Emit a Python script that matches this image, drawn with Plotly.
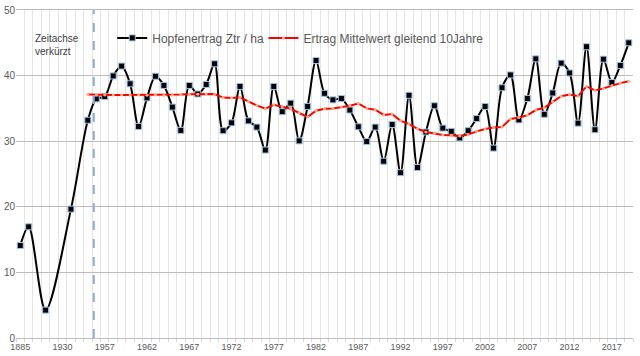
import plotly.graph_objects as go

# Category axis: shortened early timeline, then yearly 1955-2019
early_labels = ["1885", "1900", "1910", "1920", "1925", "1930", "1950", "1954"]
years = [str(y) for y in range(1955, 2020)]
categories = early_labels + years

# Hop yield (Ztr / ha); None = no value in that slot
early_yield = [14.1, 16.95, None, 4.25, None, None, 19.65, None]
yield_1955_1964 = [33.2, 36.45, 36.8, 39.95, 41.45, 38.75, 32.25, 36.6, 39.9, 38.5]
yield_1965_1974 = [35.2, 31.65, 38.5, 37.2, 38.65, 41.8, 31.6, 32.8, 38.35, 33.1]
yield_1975_1984 = [32.15, 28.65, 38.35, 34.5, 35.8, 30.05, 35.3, 42.3, 37.3, 36.3]
yield_1985_1994 = [36.5, 34.75, 32.2, 29.95, 32.15, 26.95, 32.55, 25.2, 37.0, 26.0]
yield_1995_2004 = [31.4, 35.4, 32.0, 31.5, 30.5, 31.6, 33.45, 35.3, 28.95, 38.15]
yield_2005_2014 = [40.1, 33.25, 36.5, 42.55, 34.1, 37.35, 41.9, 40.4, 32.75, 44.4]
yield_2015_2019 = [31.75, 42.5, 38.95, 41.55, 45.0]
hop_yield = (early_yield + yield_1955_1964 + yield_1965_1974 + yield_1975_1984
             + yield_1985_1994 + yield_1995_2004 + yield_2005_2014 + yield_2015_2019)

# 10-year moving average
early_avg = [None] * 8
avg_1955_1964 = [37.1, 37.05, 37.05, 37.05, 37.05, 37.05, 37.05, 37.0, 37.05, 37.0]
avg_1965_1974 = [37.0, 37.1, 37.15, 37.15, 37.2, 37.2, 36.65, 36.6, 36.7, 36.05]
avg_1975_1984 = [35.45, 34.95, 35.55, 35.25, 34.95, 34.3, 33.7, 34.65, 34.95, 35.0]
avg_1985_1994 = [35.2, 35.4, 35.75, 35.0, 34.8, 34.0, 34.15, 33.1, 32.65, 31.9]
avg_1995_2004 = [31.4, 31.2, 30.95, 30.9, 30.8, 31.0, 31.5, 31.85, 32.1, 32.15]
avg_2005_2014 = [33.4, 33.6, 33.95, 34.75, 35.1, 36.0, 36.85, 37.1, 36.85, 38.35]
avg_2015_2019 = [37.75, 38.05, 38.5, 38.85, 39.15]
moving_avg = (early_avg + avg_1955_1964 + avg_1965_1974 + avg_1975_1984
              + avg_1985_1994 + avg_1995_2004 + avg_2005_2014 + avg_2015_2019)

labelled = ["1885", "1930", "1957", "1962", "1967", "1972", "1977", "1982",
            "1987", "1992", "1997", "2002", "2007", "2012", "2017"]
tick_text = [c if c in labelled else "" for c in categories]
y_ticks = [0, 10, 20, 30, 40, 50]

FONT = "Liberation Sans"
GRAY_TXT = "#595959"

fig = go.Figure()
fig.add_trace(go.Scatter(
    x=categories, y=hop_yield, name="Hopfenertrag Ztr / ha",
    mode="lines+markers", connectgaps=True, legend="legend",
    line=dict(color="black", width=2, shape="spline", smoothing=0.9),
    marker=dict(symbol="square", size=6, color="black",
                line=dict(color="#9dc3e6", width=1)),
))
fig.add_trace(go.Scatter(
    x=categories, y=moving_avg, name="Ertrag Mittelwert gleitend 10Jahre",
    mode="lines+markers", legend="legend2",
    line=dict(color="#ff0000", width=2),
    marker=dict(symbol="circle", size=3, color="#f4b183"),
))

fig.add_shape(type="line", xref="x", yref="y", x0=8.7, x1=8.7, y0=0, y1=50,
              line=dict(color="#8faadc", width=2, dash="dash"))

fig.add_annotation(text="Zeitachse<br>verkürzt", xref="paper", yref="paper",
                   x=0.027, y=0.937, xanchor="left", yanchor="top", align="left",
                   showarrow=False, font=dict(family=FONT, size=10, color="#404040"))

legend_common = dict(orientation="h", y=0.915, xanchor="left", yanchor="middle",
                     font=dict(family=FONT, size=12, color=GRAY_TXT),
                     bgcolor="rgba(0,0,0,0)", itemwidth=30)

fig.update_layout(
    width=640, height=356,
    margin=dict(l=16, r=7, t=4, b=17),
    paper_bgcolor="white", plot_bgcolor="white",
    font=dict(family=FONT, color=GRAY_TXT),
    legend=dict(x=0.156, **legend_common),
    legend2=dict(x=0.401, **legend_common),
    showlegend=True,
)
fig.update_xaxes(
    type="category", categoryorder="array", categoryarray=categories,
    tickmode="array", tickvals=categories, ticktext=tick_text,
    tickson="boundaries", ticks="outside", ticklen=3, tickcolor="#d9d9d9",
    showgrid=True, gridcolor="#e4e4e4", gridwidth=1,
    showline=True, mirror=True, linecolor="#bdbdbd", linewidth=1,
    tickfont=dict(family=FONT, size=9, color=GRAY_TXT), tickangle=0,
    range=[-0.5, len(categories) - 0.5],
)
fig.update_yaxes(
    range=[0, 50], tickvals=y_ticks, ticktext=[str(v) for v in y_ticks],
    showgrid=True, gridcolor="#bdbdbd", gridwidth=1,
    zeroline=False, showline=False, ticks="",
    ticklabeloverflow="allow",
    tickfont=dict(family=FONT, size=10, color=GRAY_TXT),
)

fig.write_html("out.html", config={"displayModeBar": False},
               post_script="document.body.style.margin='0px';document.body.style.padding='0px';")
